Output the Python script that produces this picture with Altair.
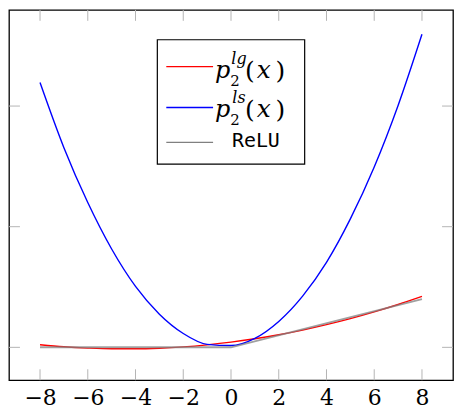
import altair as alt
import pandas as pd

# ---- data ----
x_vals = [-8, -7, -6, -5, -4, -3, -2, -1, 0, 1, 2, 3, 4, 5, 6, 7, 8]
lg_vals = [0.44, 0.10, -0.12, -0.24, -0.24, -0.14, 0.08, 0.42, 0.86,
           1.42, 2.08, 2.86, 3.76, 4.76, 5.88, 7.10, 8.44]
ls_vals = [43.9, 33.1, 24.0, 16.3, 10.1, 5.5, 2.3, 0.5, 0.3,
           1.5, 4.3, 8.5, 14.1, 21.3, 29.9, 40.1, 51.9]
relu_x = [-8, 0, 8]
relu_y = [0, 0, 8]
x_ticks = [-8, -6, -4, -2, 0, 2, 4, 6, 8]
y_ticks = [0, 20, 40]

W, H = 446, 372
TICK = "#b4b4b4"
SERIF = "DejaVu Serif"
MONO = "DejaVu Sans Mono"

xs = alt.Scale(domain=[-9.3, 9.3], nice=False, zero=False)
ys = alt.Scale(domain=[-5.45, 55.94], nice=False, zero=False)
xaxis = alt.Axis(values=x_ticks, ticks=False, tickSize=0, domain=False, grid=False,
                 title=None, labelFont=SERIF, labelFontSize=22, labelColor="black",
                 labelPadding=7, labelBaseline="top", labelFlush=False, labelOverlap=False)


def X(field="x"):
    return alt.X(f"{field}:Q", scale=xs, axis=xaxis)


def Y(field="y"):
    return alt.Y(f"{field}:Q", scale=ys, axis=None)


lg_df = pd.DataFrame({"x": x_vals, "y": lg_vals})
ls_df = pd.DataFrame({"x": x_vals, "y": ls_vals})
relu_df = pd.DataFrame({"x": relu_x, "y": relu_y})

red = alt.Chart(lg_df).mark_line(color="#ff0000", strokeWidth=1.4, interpolate="monotone").encode(x=X(), y=Y())
blue = alt.Chart(ls_df).mark_line(color="#0000ff", strokeWidth=1.4, interpolate="monotone").encode(x=X(), y=Y())
gray = alt.Chart(relu_df).mark_line(color="#808080", strokeWidth=2, opacity=0.75).encode(x=X(), y=Y())

xt_df = pd.DataFrame({"x": x_ticks})
yt_df = pd.DataFrame({"y": y_ticks})
xt_bot = alt.Chart(xt_df).mark_rule(color=TICK, strokeWidth=1).encode(x=X(), y=alt.value(H - 11), y2=alt.value(H))
xt_top = alt.Chart(xt_df).mark_rule(color=TICK, strokeWidth=1).encode(x=X(), y=alt.value(0), y2=alt.value(11))
yt_left = alt.Chart(yt_df).mark_rule(color=TICK, strokeWidth=1).encode(y=Y(), x=alt.value(0), x2=alt.value(11))
yt_right = alt.Chart(yt_df).mark_rule(color=TICK, strokeWidth=1).encode(y=Y(), x=alt.value(W - 11), x2=alt.value(W))

one = pd.DataFrame({"a": [0]})
box = alt.Chart(one).mark_rect(fill="white", stroke="black", strokeWidth=1.2).encode(
    x=alt.value(149), x2=alt.value(297), y=alt.value(30), y2=alt.value(155))


def sample(color, yy, width=1.2):
    return alt.Chart(one).mark_rule(color=color, strokeWidth=width).encode(
        x=alt.value(158), x2=alt.value(205), y=alt.value(yy))


def txt(s, xx, yy, size, italic=True, font=SERIF):
    kw = dict(text=s, font=font, fontSize=size, align="center", baseline="alphabetic", color="black")
    if italic:
        kw["fontStyle"] = "italic"
    return alt.Chart(one).mark_text(**kw).encode(x=alt.value(xx), y=alt.value(yy))


def math_entry(sup, dy):
    return [
        txt("p", 214.5, 68 + dy, 24),
        txt("2", 227, 76 + dy, 15, italic=False),
        txt(sup, 231, 54 + dy, 16),
        txt("(", 242, 69 + dy, 25, italic=False),
        txt("x", 256, 68 + dy, 25),
        txt(")", 272.5, 69 + dy, 25, italic=False),
    ]


legend_layers = [box, sample("#ff0000", 57), sample("#0000ff", 98, 1.6), sample("#808080", 133)]
legend_layers += math_entry("lg", 0)
legend_layers += math_entry("ls", 40)
legend_layers.append(txt("ReLU", 248, 138, 20, italic=False, font=MONO))

chart = alt.layer(
    xt_bot, xt_top, yt_left, yt_right, red, blue, gray, *legend_layers
).properties(
    width=W, height=H, padding={"left": 0, "top": 0, "right": 0, "bottom": 0}
).configure_view(stroke="black", strokeWidth=1.3)

chart.save("out.html", embed_options={"renderer": "svg", "actions": False})
